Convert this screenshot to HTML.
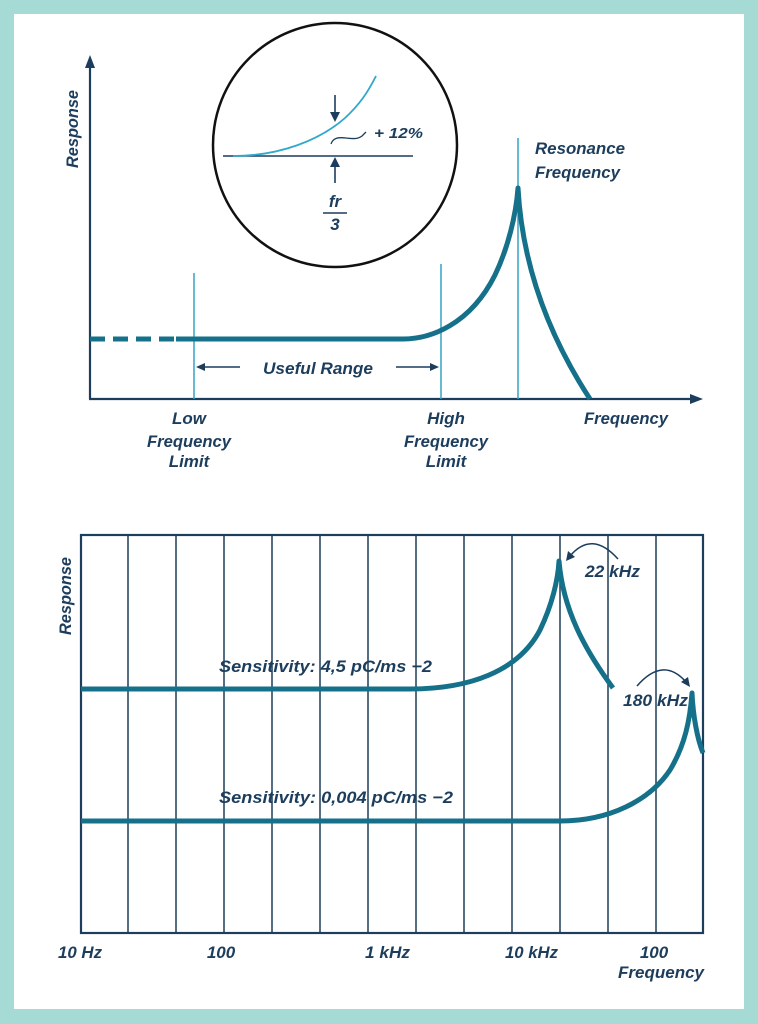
<!DOCTYPE html>
<html><head><meta charset="utf-8"><style>
html,body{margin:0;padding:0;background:#a6dbd5;}
svg{display:block;}
text{font-family:"Liberation Sans",sans-serif;font-style:italic;font-weight:bold;fill:#1c3d5c;}
</style></head><body>
<svg width="758" height="1024" viewBox="0 0 758 1024" xmlns="http://www.w3.org/2000/svg">
<rect x="0" y="0" width="758" height="1024" fill="#a6dbd5"/>
<rect x="14" y="14" width="730" height="995" fill="#ffffff"/>

<!-- ===== TOP CHART ===== -->
<circle cx="335" cy="145" r="122" fill="none" stroke="#111" stroke-width="2.5"/>
<line x1="223" y1="156" x2="413" y2="156" stroke="#1c3d5c" stroke-width="1.6"/>
<path d="M233,156 C280,156 320,140 345,118 C360,104 368,92 376,76" fill="none" stroke="#2fa8cb" stroke-width="1.8"/>
<line x1="335" y1="95" x2="335" y2="114" stroke="#1c3d5c" stroke-width="1.6"/>
<path d="M330,112 L340,112 L335,122 Z" fill="#1c3d5c"/>
<line x1="335" y1="166" x2="335" y2="183" stroke="#1c3d5c" stroke-width="1.6"/>
<path d="M330,167 L340,167 L335,157 Z" fill="#1c3d5c"/>
<path d="M331,144 C333,138 338,137 346,138 C354,139 358,139 362,136 L366,132" fill="none" stroke="#1c3d5c" stroke-width="1.3"/>
<text x="374" y="138" font-size="15" textLength="49" lengthAdjust="spacingAndGlyphs">+ 12%</text>
<text x="335" y="207" font-size="17" text-anchor="middle">fr</text>
<line x1="323" y1="213" x2="347" y2="213" stroke="#1c3d5c" stroke-width="1.6"/>
<text x="335" y="230" font-size="17" text-anchor="middle">3</text>

<line x1="90" y1="399" x2="90" y2="64" stroke="#1c3d5c" stroke-width="2.2"/>
<path d="M85,68 L95,68 L90,55 Z" fill="#1c3d5c"/>
<line x1="89" y1="399" x2="694" y2="399" stroke="#1c3d5c" stroke-width="2.2"/>
<path d="M690,394 L690,404 L703,399 Z" fill="#1c3d5c"/>
<text transform="translate(78,168) rotate(-90)" font-size="17" textLength="78" lengthAdjust="spacingAndGlyphs">Response</text>

<line x1="194" y1="273" x2="194" y2="399" stroke="#33a3c4" stroke-width="1.5"/>
<line x1="441" y1="264" x2="441" y2="399" stroke="#33a3c4" stroke-width="1.5"/>
<line x1="518" y1="138" x2="518" y2="399" stroke="#33a3c4" stroke-width="1.5"/>

<line x1="90" y1="339" x2="178" y2="339" stroke="#15708a" stroke-width="5" stroke-dasharray="15,8"/>
<path d="M176,339 L403,339 C430,339 470,325 495,275 C508,248 516,215 518,188 C522,260 545,330 590,399" fill="none" stroke="#15708a" stroke-width="5" stroke-linejoin="round"/>

<line x1="202" y1="367" x2="240" y2="367" stroke="#1c3d5c" stroke-width="1.5"/>
<path d="M205,363 L205,371 L196,367 Z" fill="#1c3d5c"/>
<line x1="396" y1="367" x2="432" y2="367" stroke="#1c3d5c" stroke-width="1.5"/>
<path d="M430,363 L430,371 L439,367 Z" fill="#1c3d5c"/>
<text x="263" y="374" font-size="17" textLength="110" lengthAdjust="spacingAndGlyphs">Useful Range</text>

<text x="189" y="424" font-size="17" text-anchor="middle">Low</text>
<text x="189" y="447" font-size="17" text-anchor="middle" textLength="84" lengthAdjust="spacingAndGlyphs">Frequency</text>
<text x="189" y="467" font-size="17" text-anchor="middle">Limit</text>
<text x="446" y="424" font-size="17" text-anchor="middle">High</text>
<text x="446" y="447" font-size="17" text-anchor="middle" textLength="84" lengthAdjust="spacingAndGlyphs">Frequency</text>
<text x="446" y="467" font-size="17" text-anchor="middle">Limit</text>
<text x="584" y="424" font-size="17" textLength="84" lengthAdjust="spacingAndGlyphs">Frequency</text>
<text x="535" y="154" font-size="17" textLength="90" lengthAdjust="spacingAndGlyphs">Resonance</text>
<text x="535" y="178" font-size="17" textLength="85" lengthAdjust="spacingAndGlyphs">Frequency</text>

<!-- ===== BOTTOM CHART ===== -->
<g stroke="#2a4a63" stroke-width="1.6">
<line x1="128" y1="535" x2="128" y2="933"/>
<line x1="176" y1="535" x2="176" y2="933"/>
<line x1="224" y1="535" x2="224" y2="933"/>
<line x1="272" y1="535" x2="272" y2="933"/>
<line x1="320" y1="535" x2="320" y2="933"/>
<line x1="368" y1="535" x2="368" y2="933"/>
<line x1="416" y1="535" x2="416" y2="933"/>
<line x1="464" y1="535" x2="464" y2="933"/>
<line x1="512" y1="535" x2="512" y2="933"/>
<line x1="560" y1="535" x2="560" y2="933"/>
<line x1="608" y1="535" x2="608" y2="933"/>
<line x1="656" y1="535" x2="656" y2="933"/>
</g>
<rect x="81" y="535" width="622" height="398" fill="none" stroke="#1c3d5c" stroke-width="2.2"/>

<path d="M81,689 L410,689 C468,689 518,672 540,630 C552,605 558,580 559,561 C563,610 585,650 613,688" fill="none" stroke="#15708a" stroke-width="5" stroke-linejoin="round"/>
<path d="M81,821 L560,821 C610,821 650,800 670,770 C685,745 690,720 692,693 C693,715 697,738 703,753" fill="none" stroke="#15708a" stroke-width="5" stroke-linejoin="round"/>

<path d="M618,559 Q592,530 570,556" fill="none" stroke="#1c3d5c" stroke-width="1.5"/>
<path d="M566,561 L568,551 L575,557 Z" fill="#1c3d5c"/>
<path d="M637,686 Q663,656 686,682" fill="none" stroke="#1c3d5c" stroke-width="1.5"/>
<path d="M690,687 L681,682 L688,677 Z" fill="#1c3d5c"/>

<text x="585" y="577" font-size="17" textLength="55" lengthAdjust="spacingAndGlyphs">22 kHz</text>
<text x="623" y="706" font-size="17" textLength="65" lengthAdjust="spacingAndGlyphs">180 kHz</text>
<text x="219" y="672" font-size="17" textLength="213" lengthAdjust="spacingAndGlyphs">Sensitivity: 4,5 pC/ms −2</text>
<text x="219" y="803" font-size="17" textLength="234" lengthAdjust="spacingAndGlyphs">Sensitivity: 0,004 pC/ms −2</text>
<text transform="translate(71,635) rotate(-90)" font-size="17" textLength="78" lengthAdjust="spacingAndGlyphs">Response</text>

<text x="58" y="958" font-size="17" textLength="44" lengthAdjust="spacingAndGlyphs">10 Hz</text>
<text x="221" y="958" font-size="17" text-anchor="middle">100</text>
<text x="365" y="958" font-size="17" textLength="45" lengthAdjust="spacingAndGlyphs">1 kHz</text>
<text x="505" y="958" font-size="17" textLength="53" lengthAdjust="spacingAndGlyphs">10 kHz</text>
<text x="654" y="958" font-size="17" text-anchor="middle">100</text>
<text x="618" y="978" font-size="17" textLength="86" lengthAdjust="spacingAndGlyphs">Frequency</text>
</svg>
</body></html>
